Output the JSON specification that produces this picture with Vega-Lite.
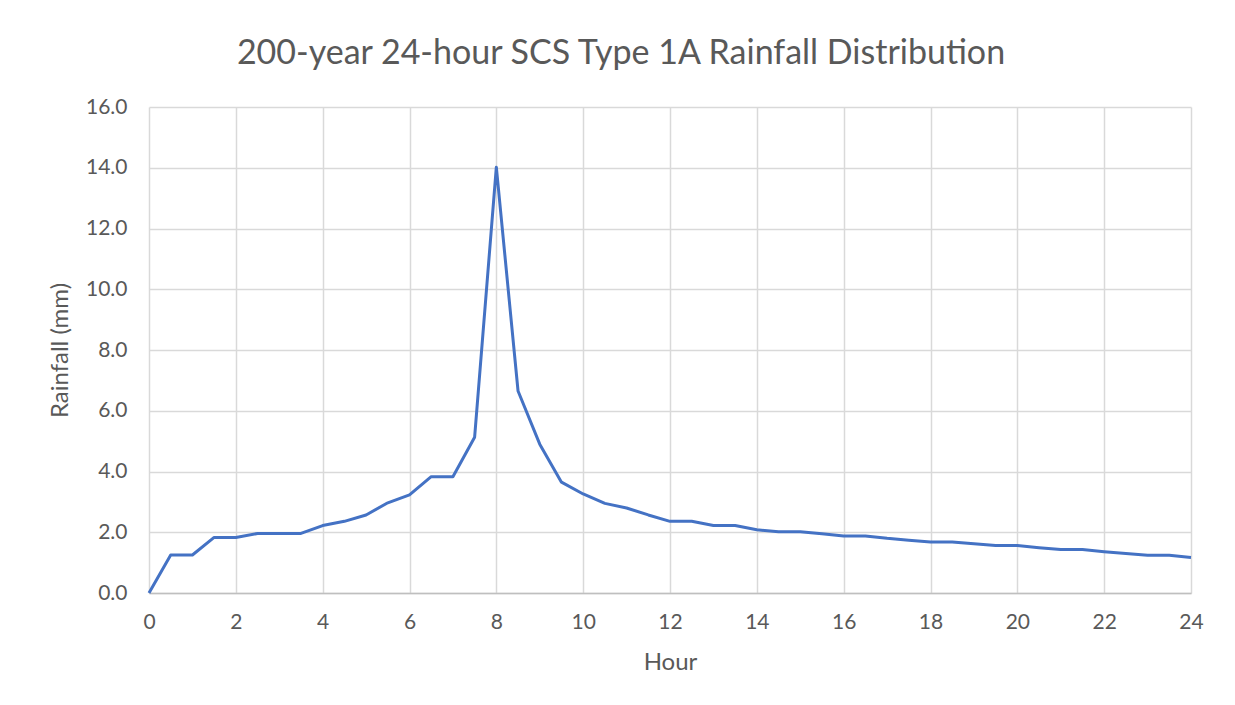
{
  "$schema": "https://vega.github.io/schema/vega-lite/v6.json",
  "width": 1042,
  "height": 486,
  "autosize": {"type": "none"},
  "padding": {"left": 149, "top": 107, "right": 44, "bottom": 112},
  "background": "white",
  "title": {
    "text": "200-year 24-hour SCS Type 1A Rainfall Distribution",
    "font": "Lato",
    "fontSize": 34,
    "fontWeight": "normal",
    "color": "#595959",
    "anchor": "middle",
    "offset": 25,
    "dx": -49
  },
  "config": {
    "view": {"stroke": null},
    "axis": {
      "labelFont": "Lato",
      "titleFont": "Lato",
      "labelColor": "#595959",
      "titleColor": "#595959",
      "labelFontSize": 21,
      "titleFontSize": 24,
      "titleFontWeight": "normal",
      "gridColor": "#d9d9d9",
      "gridWidth": 1.5,
      "ticks": false
    }
  },
  "data": {
    "values": [
      {"hour": 0, "rain": 0},
      {"hour": 0.5, "rain": 1.25},
      {"hour": 1, "rain": 1.25},
      {"hour": 1.5, "rain": 1.83},
      {"hour": 2, "rain": 1.83},
      {"hour": 2.5, "rain": 1.96},
      {"hour": 3, "rain": 1.96},
      {"hour": 3.5, "rain": 1.96},
      {"hour": 4, "rain": 2.22},
      {"hour": 4.5, "rain": 2.36},
      {"hour": 5, "rain": 2.57},
      {"hour": 5.5, "rain": 2.97},
      {"hour": 6, "rain": 3.23},
      {"hour": 6.5, "rain": 3.83},
      {"hour": 7, "rain": 3.83},
      {"hour": 7.5, "rain": 5.13},
      {"hour": 8, "rain": 14.02},
      {"hour": 8.5, "rain": 6.65},
      {"hour": 9, "rain": 4.9},
      {"hour": 9.5, "rain": 3.65},
      {"hour": 10, "rain": 3.26},
      {"hour": 10.5, "rain": 2.95},
      {"hour": 11, "rain": 2.8},
      {"hour": 11.5, "rain": 2.57},
      {"hour": 12, "rain": 2.36},
      {"hour": 12.5, "rain": 2.36},
      {"hour": 13, "rain": 2.22},
      {"hour": 13.5, "rain": 2.22},
      {"hour": 14, "rain": 2.08},
      {"hour": 14.5, "rain": 2.02},
      {"hour": 15, "rain": 2.02},
      {"hour": 15.5, "rain": 1.95},
      {"hour": 16, "rain": 1.88},
      {"hour": 16.5, "rain": 1.88},
      {"hour": 17, "rain": 1.8},
      {"hour": 17.5, "rain": 1.74},
      {"hour": 18, "rain": 1.68},
      {"hour": 18.5, "rain": 1.68},
      {"hour": 19, "rain": 1.62},
      {"hour": 19.5, "rain": 1.56},
      {"hour": 20, "rain": 1.56},
      {"hour": 20.5, "rain": 1.49},
      {"hour": 21, "rain": 1.43},
      {"hour": 21.5, "rain": 1.43},
      {"hour": 22, "rain": 1.36},
      {"hour": 22.5, "rain": 1.3},
      {"hour": 23, "rain": 1.24},
      {"hour": 23.5, "rain": 1.24},
      {"hour": 24, "rain": 1.17}
    ]
  },
  "mark": {"type": "line", "color": "#4472C4", "strokeWidth": 3, "strokeJoin": "round"},
  "encoding": {
    "x": {
      "field": "hour",
      "type": "quantitative",
      "title": "Hour",
      "scale": {"domain": [0, 24], "nice": false},
      "axis": {
        "values": [0, 2, 4, 6, 8, 10, 12, 14, 16, 18, 20, 22, 24],
        "labelFlush": false,
        "labelPadding": 18,
        "titlePadding": 18,
        "domainColor": "#bfbfbf",
        "domainWidth": 1.5
      }
    },
    "y": {
      "field": "rain",
      "type": "quantitative",
      "title": "Rainfall (mm)",
      "scale": {"domain": [0, 16], "nice": false},
      "axis": {
        "values": [0, 2, 4, 6, 8, 10, 12, 14, 16],
        "format": ".1f",
        "labelPadding": 22,
        "titlePadding": 13,
        "domain": false
      }
    }
  }
}
